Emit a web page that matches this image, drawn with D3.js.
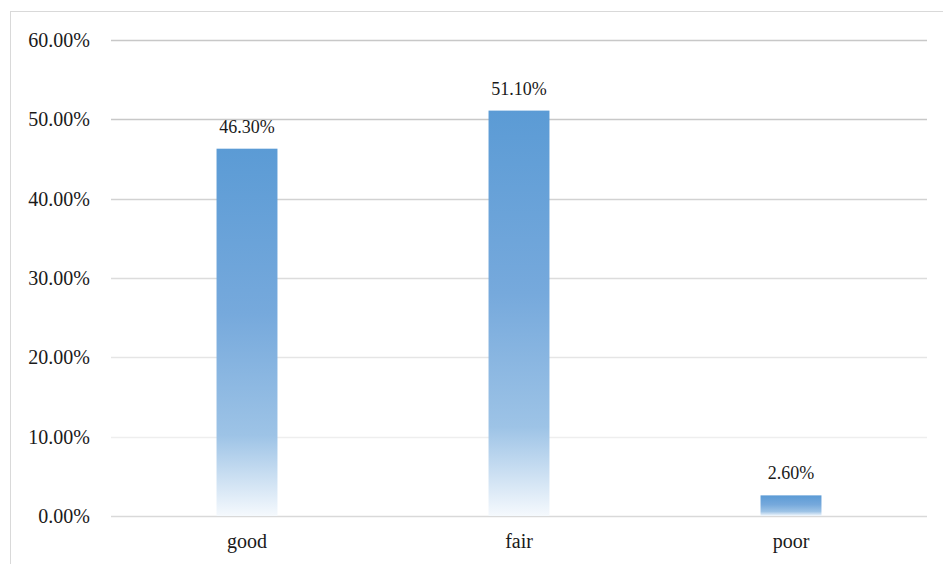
<!DOCTYPE html>
<html>
<head>
<meta charset="utf-8">
<script src="https://cdn.jsdelivr.net/npm/d3@7"></script>
<style>
  body { margin: 0; background: #fff; }
  svg { display: block; }
  text { font-family: "Liberation Serif", "Times New Roman", serif; }
</style>
</head>
<body>
<svg id="vis"></svg>
<script>
// chart data
const categories = ["good", "fair", "poor"];
const values = [46.3, 51.1, 2.6];
const yTicks = [0, 10, 20, 30, 40, 50, 60];

const W = 943, H = 564;
const margin = {top: 40, right: 16, bottom: 48, left: 111};
const width = W - margin.left - margin.right,
      height = H - margin.top - margin.bottom;

const svg = d3.select("#vis").attr("width", W).attr("height", H);

// outer chart frame
svg.append("rect")
    .attr("x", 10.5).attr("y", 11.5)
    .attr("width", W).attr("height", H)
    .attr("fill", "none")
    .attr("stroke", "#d9d9d9");

// gradient for bars: blue at top fading to white at base
const defs = svg.append("defs");
const grad = defs.append("linearGradient")
    .attr("id", "barGrad")
    .attr("x1", 0).attr("y1", 0).attr("x2", 0).attr("y2", 1);
grad.append("stop").attr("offset", "0%").attr("stop-color", "#5b9bd5");
grad.append("stop").attr("offset", "45%").attr("stop-color", "#76a9dc");
grad.append("stop").attr("offset", "78%").attr("stop-color", "#9dc3e6");
grad.append("stop").attr("offset", "100%").attr("stop-color", "#f5f9fd");

const g = svg.append("g")
    .attr("transform", "translate(" + margin.left + "," + margin.top + ")");

const x = d3.scaleBand()
    .domain(categories)
    .range([0, width])
    .paddingInner(0.776)
    .paddingOuter(0.388);

const y = d3.scaleLinear()
    .domain([0, 60])
    .range([height, 0]);

// gridlines get lighter toward the bottom, like the reference
const gridColor = d3.scaleLinear()
    .domain([10, 30, 50])
    .range(["#eeeeee", "#dcdcdc", "#c8c8c8"])
    .clamp(true);

g.selectAll(".grid")
    .data(yTicks)
    .enter()
    .append("line")
    .attr("class", "grid")
    .attr("x1", 0)
    .attr("x2", width)
    .attr("y1", d => Math.round(y(d)) + 0.5)
    .attr("y2", d => Math.round(y(d)) + 0.5)
    .attr("stroke", d => d === 0 ? "#d9d9d9" : gridColor(d))
    .attr("stroke-width", 1.5);

// y axis labels
const yAxis = g.append("g")
    .call(d3.axisLeft(y).tickValues(yTicks).tickSize(0).tickPadding(21)
        .tickFormat(d => d.toFixed(2) + "%"));
yAxis.select(".domain").remove();
yAxis.attr("font-family", null);
yAxis.selectAll("text")
    .style("font-family", "'Liberation Serif', 'Times New Roman', serif")
    .style("font-size", "20px")
    .attr("fill", "#1a1a1a");

// x axis labels
const xAxis = g.append("g")
    .attr("transform", "translate(0," + height + ")")
    .call(d3.axisBottom(x).tickSize(0).tickPadding(18));
xAxis.select(".domain").remove();
xAxis.attr("font-family", null);
xAxis.selectAll("text")
    .style("font-family", "'Liberation Serif', 'Times New Roman', serif")
    .style("font-size", "20px")
    .attr("fill", "#1a1a1a");

// value labels + bars
g.selectAll(".bar")
    .data(values)
    .enter()
    .append("rect")
    .attr("class", "bar")
    .attr("x", (d, i) => x(categories[i]))
    .attr("y", d => y(d))
    .attr("width", x.bandwidth())
    .attr("height", d => y(0) - y(d))
    .attr("fill", "url(#barGrad)");

g.selectAll(".val")
    .data(values)
    .enter()
    .append("text")
    .attr("class", "val")
    .attr("x", (d, i) => x(categories[i]) + x.bandwidth() / 2)
    .attr("y", d => y(d) - 16)
    .attr("text-anchor", "middle")
    .style("font-size", "18px")
    .attr("fill", "#1a1a1a")
    .text(d => d.toFixed(2) + "%");
</script>
</body>
</html>
